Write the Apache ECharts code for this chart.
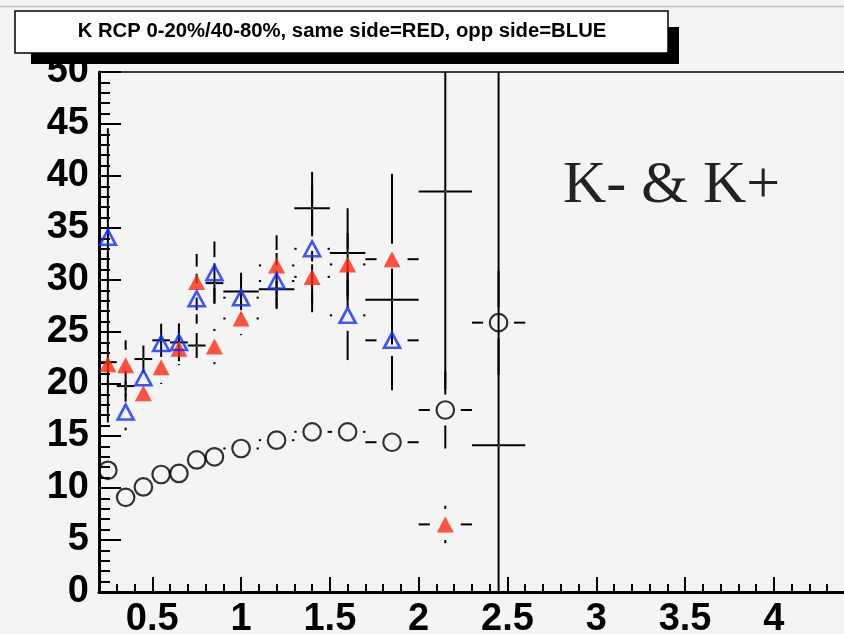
<!DOCTYPE html>
<html>
<head>
<meta charset="utf-8">
<script src="https://cdn.jsdelivr.net/npm/echarts@6/dist/echarts.min.js"></script>
<style>
  html, body { margin: 0; padding: 0; background: #f4f4f4; }
  #chart { width: 844px; height: 634px; }
</style>
</head>
<body>
<div id="chart"></div>
<script>
// pT bin centres and half widths (GeV/c)
const binCenters    = [0.25, 0.35, 0.45, 0.55, 0.65, 0.75, 0.85, 1.0, 1.2, 1.4, 1.6, 1.85, 2.15, 2.45];
const binHalfWidths = [0.05, 0.05, 0.05, 0.05, 0.05, 0.05, 0.05, 0.1, 0.1, 0.1, 0.1, 0.15, 0.15, 0.15];

// inclusive RCP (black crosses), asymmetric errors
const inclY  = [22.1, 19.8, 22.4, 24.2, 24.0, 23.7, 29.7, 28.9, 29.1, 36.9, 32.6, 28.1, 38.5, 14.1];
const inclLo = [5.8, 1.5, 1.3, 1.6, 1.8, 1.2, 1.9, 1.8, 1.8, 2.7, 5.3, 3.0, 19.0, 40.0];
const inclHi = [22.5, 1.5, 1.3, 1.6, 1.8, 1.2, 1.9, 1.8, 1.8, 3.5, 4.3, 3.0, 20.0, 40.0];

// same side (red filled triangles)
const sameY   = [21.9, 21.8, 19.1, 21.6, 23.4, 29.8, 23.6, 26.3, 31.4, 30.3, 31.5, 32.0, 6.5];
const sameErr = [2.0, 2.4, 1.5, 1.6, 1.6, 2.7, 1.7, 1.6, 2.9, 2.5, 3.0, 8.2, 1.8];

// opposite side (blue open triangles)
const oppY   = [34.1, 17.3, 20.6, 23.9, 24.0, 28.2, 30.7, 28.3, 29.9, 33.0, 26.6, 24.2];
const oppErr = [3.0, 1.75, 1.4, 1.4, 1.8, 2.4, 3.0, 1.6, 2.7, 6.1, 4.3, 4.8];

// reference points (black open circles)
const circY   = [11.7, 9.1, 10.1, 11.3, 11.4, 12.7, 13.0, 13.8, 14.6, 15.4, 15.4, 14.4, 17.5, 25.9];
const circErr = [0.8, 0.6, 0.6, 0.6, 0.6, 0.7, 0.7, 0.8, 0.9, 1.0, 1.0, 1.2, 3.7, 5.0];

// axis ticks
const xMajorTicks = [0.5, 1, 1.5, 2, 2.5, 3, 3.5, 4];
const xMinorTicks = [0.3, 0.4, 0.6, 0.7, 0.8, 0.9, 1.1, 1.2, 1.3, 1.4, 1.6, 1.7, 1.8, 1.9,
                     2.1, 2.2, 2.3, 2.4, 2.6, 2.7, 2.8, 2.9, 3.1, 3.2, 3.3, 3.4, 3.6, 3.7,
                     3.8, 3.9, 4.1, 4.2, 4.3];

const titleText = 'K RCP 0-20%/40-80%, same side=RED, opp side=BLUE';
const tagText = 'K- & K+';

const X_MIN = 0.2, X_MAX = 4.395, Y_MIN = 0, Y_MAX = 50;
const labelFont = { fontFamily: '"Liberation Sans", Arial, sans-serif', fontWeight: 'bold', fontSize: 38, color: '#000' };

// Error bars drawn as black segments, leaving a gap (px) around the marker
function errorBars(name, ys, lo, hi, gap, withDot) {
  const data = ys.map((y, i) => [binCenters[i], y, binHalfWidths[i], lo[i], hi[i]]);
  return {
    type: 'custom', name, clip: true, z: 2, silent: true,
    encode: { x: 0, y: 1 },
    data,
    renderItem(params, api) {
      const x = api.value(0), y = api.value(1), ex = api.value(2);
      const el = api.value(3), eh = api.value(4);
      const cs = params.coordSys;
      const c = api.coord([x, y]);
      const left = api.coord([x - ex, y])[0];
      const right = api.coord([x + ex, y])[0];
      const clampY = v => Math.max(cs.y, Math.min(cs.y + cs.height, v));
      const top = clampY(api.coord([x, y + eh])[1]);
      const bottom = clampY(api.coord([x, y - el])[1]);
      const segs = [];
      if (gap > 0) {
        if (c[0] - gap > left) segs.push([left, c[1], c[0] - gap, c[1]]);
        if (c[0] + gap < right) segs.push([c[0] + gap, c[1], right, c[1]]);
        if (c[1] - gap > top) segs.push([c[0], top, c[0], c[1] - gap]);
        if (c[1] + gap < bottom) segs.push([c[0], c[1] + gap, c[0], bottom]);
      } else {
        segs.push([left, c[1], right, c[1]]);
        segs.push([c[0], top, c[0], bottom]);
      }
      const children = segs.map(s => ({
        type: 'line',
        shape: { x1: s[0], y1: s[1], x2: s[2], y2: s[3] },
        style: { stroke: '#000', lineWidth: 2 }
      }));
      if (withDot) {
        children.push({ type: 'rect', shape: { x: c[0] - 0.5, y: c[1] - 0.5, width: 1.5, height: 1.5 },
          style: { fill: '#20c020' }, z2: 5 });
      }
      return { type: 'group', children };
    }
  };
}

const chart = echarts.init(document.getElementById('chart'), null, { renderer: 'canvas' });

chart.setOption({
  backgroundColor: '#f4f4f4',
  animation: false,
  grid: { left: 99, right: 0, top: 72, bottom: 42, containLabel: false, outerBoundsMode: 'none' },
  xAxis: [
    {
      type: 'value', position: 'bottom', min: X_MIN, max: X_MAX,
      axisLine: { show: true, onZero: false, lineStyle: { color: '#000', width: 3 } },
      axisTick: { show: true, inside: true, length: 15, customValues: xMajorTicks, lineStyle: { color: '#000', width: 2 } },
      axisLabel: { show: true, customValues: xMajorTicks, margin: 9, ...labelFont },
      splitLine: { show: false }
    },
    {
      type: 'value', position: 'bottom', min: X_MIN, max: X_MAX,
      axisLine: { show: false },
      axisTick: { show: true, inside: true, length: 8, customValues: xMinorTicks, lineStyle: { color: '#000', width: 2 } },
      axisLabel: { show: false },
      splitLine: { show: false }
    },
    {
      type: 'value', position: 'top', min: X_MIN, max: X_MAX,
      axisLine: { show: true, onZero: false, lineStyle: { color: '#000', width: 1.5 } },
      axisTick: { show: false }, axisLabel: { show: false }, splitLine: { show: false }
    }
  ],
  yAxis: {
    type: 'value', min: Y_MIN, max: Y_MAX, interval: 5,
    axisLine: { show: true, onZero: false, lineStyle: { color: '#000', width: 3 } },
    axisTick: { show: true, inside: true, length: 22, lineStyle: { color: '#000', width: 2 } },
    minorTick: { show: true, splitNumber: 5, length: 11, lineStyle: { color: '#000', width: 2 } },
    axisLabel: { margin: 10, padding: [0, 0, 12, 0], ...labelFont },
    splitLine: { show: false }
  },
  graphic: [
    { type: 'line', shape: { x1: 0, y1: 6.5, x2: 844, y2: 6.5 }, style: { stroke: '#c4c4c4', lineWidth: 1.5 }, z: 100 },
    { type: 'rect', shape: { x: 31, y: 27, width: 648, height: 37 }, style: { fill: '#000' }, z: 100 },
    { type: 'rect', shape: { x: 15, y: 11, width: 653, height: 42 }, style: { fill: '#ffffff', stroke: '#000', lineWidth: 1.5 }, z: 101 },
    { type: 'text', x: 342, y: 31, z: 102,
      style: { text: titleText, fill: '#000', align: 'center', verticalAlign: 'middle',
               font: 'bold 20.3px "Liberation Sans", Arial, sans-serif' } },
    { type: 'text', x: 563, y: 186, z: 102,
      style: { text: tagText, fill: '#222', align: 'left', verticalAlign: 'middle',
               font: '60px "Liberation Serif", "Times New Roman", serif' } }
  ],
  series: [
    errorBars('circles-err', circY, circErr, circErr, 15.5, false),
    errorBars('same-err', sameY, sameErr, sameErr, 15.5, false),
    errorBars('opp-err', oppY, oppErr, oppErr, 15.5, false),
    errorBars('inclusive', inclY, inclLo, inclHi, 0, true),
    {
      type: 'scatter', name: 'circles', z: 4, silent: true,
      data: circY.map((y, i) => [binCenters[i], y]),
      symbol: 'circle', symbolSize: 17.5,
      itemStyle: { color: 'transparent', borderColor: '#000', borderWidth: 2.2 }
    },
    {
      type: 'scatter', name: 'same side', z: 4, silent: true,
      data: sameY.map((y, i) => [binCenters[i], y]),
      symbol: 'triangle', symbolSize: [17, 16],
      itemStyle: { color: '#ff2a10' }
    },
    {
      type: 'scatter', name: 'opp side', z: 5, silent: true,
      data: oppY.map((y, i) => [binCenters[i], y]),
      symbol: 'triangle', symbolSize: [16, 15],
      itemStyle: { color: 'transparent', borderColor: '#0f2dff', borderWidth: 2.6 }
    }
  ]
});
</script>
</body>
</html>
